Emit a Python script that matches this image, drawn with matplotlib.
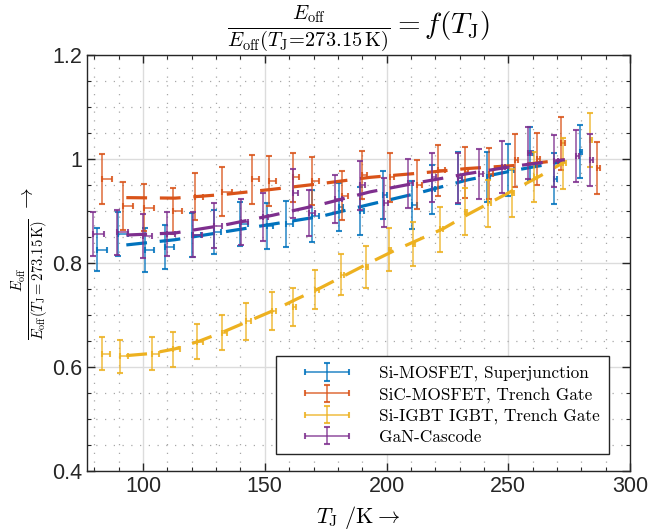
import numpy as np
import matplotlib
matplotlib.use('Agg')
import matplotlib.pyplot as plt
from matplotlib.ticker import MultipleLocator
from matplotlib.container import ErrorbarContainer
from matplotlib.legend_handler import HandlerErrorbar

plt.rcParams['mathtext.fontset'] = 'cm'
plt.rcParams['font.family'] = 'Liberation Sans'

# --- data ---
labels = ['Si-MOSFET, Superjunction', 'SiC-MOSFET, Trench Gate',
          'Si-IGBT IGBT, Trench Gate', 'GaN-Cascode']
colors = ['#0072BD', '#D95319', '#EDB120', '#7E2F8E']

# Si-MOSFET
si_x = [81.0, 89.9, 100.8, 109.0, 120.2, 129.1, 139.8, 150.8, 158.7, 169.5, 180.5,
        189.1, 198.6, 210.5, 218.5, 229.4, 241.1, 249.9, 258.8, 268.8, 279.3]
si_y = [0.826, 0.856, 0.825, 0.831, 0.854, 0.860, 0.875, 0.872, 0.875, 0.890, 0.908,
        0.901, 0.931, 0.912, 0.942, 0.963, 0.965, 0.979, 1.011, 0.962, 1.014]
si_yerr = [0.042, 0.043, 0.042, 0.042, 0.043, 0.043, 0.043, 0.044, 0.044, 0.050, 0.046,
           0.046, 0.046, 0.046, 0.047, 0.050, 0.048, 0.050, 0.051, 0.049, 0.051]
si_xerr = [4.1, 3.8, 3.8, 3.8, 3.8, 3.1, 3.4, 2.7, 2.7, 2.9, 1.8,
           1.6, 1.6, 1.8, 1.4, 1.4, 1.4, 2.3, 1.4, 1.2, 1.1]

# SiC-MOSFET
sic_x = [83.0, 91.9, 100.5, 112.2, 121.3, 132.6, 144.6, 151.8, 161.4, 169.5, 181.8,
         190.0, 201.4, 212.6, 221.3, 232.2, 242.2, 252.7, 261.8, 271.8, 286.2]
sic_y = [0.962, 0.910, 0.907, 0.900, 0.928, 0.937, 0.961, 0.958, 0.965, 0.958, 0.930,
         0.970, 0.965, 0.951, 0.979, 0.975, 0.972, 0.998, 1.001, 1.031, 0.983]
sic_yerr = [0.048, 0.046, 0.046, 0.044, 0.046, 0.047, 0.047, 0.048, 0.047, 0.047, 0.047,
            0.046, 0.047, 0.047, 0.049, 0.049, 0.049, 0.051, 0.050, 0.051, 0.050]
sic_xerr = [4.1, 4.1, 4.1, 3.7, 3.4, 3.8, 3.0, 2.7, 2.7, 2.7, 2.5,
            2.0, 1.6, 1.8, 2.5, 1.4, 1.6, 1.4, 1.1, 1.4, 1.4]

# Si-IGBT
igbt_x = [83.0, 90.6, 103.6, 112.5, 122.0, 132.3, 142.2, 152.8, 161.4, 170.6, 181.2,
          191.5, 200.9, 210.7, 221.9, 232.2, 241.7, 251.3, 260.6, 272.5, 283.5]
igbt_y = [0.626, 0.621, 0.626, 0.634, 0.649, 0.666, 0.688, 0.708, 0.716, 0.749, 0.778,
          0.793, 0.826, 0.837, 0.865, 0.899, 0.915, 0.935, 0.966, 0.992, 1.037]
igbt_yerr = [0.032, 0.032, 0.032, 0.033, 0.033, 0.034, 0.035, 0.037, 0.037, 0.038, 0.039,
             0.040, 0.042, 0.042, 0.043, 0.045, 0.045, 0.046, 0.048, 0.049, 0.052]
igbt_xerr = [3.4, 3.4, 3.0, 2.7, 2.7, 2.0, 2.0, 1.8, 1.6, 1.8, 1.4,
             1.0, 1.1, 1.0, 1.1, 1.0, 1.0, 1.0, 1.0, 1.0, 1.0]

# GaN-Cascode
gan_x = [79.6, 89.5, 100.1, 110.0, 120.7, 129.3, 140.1, 149.1, 161.4, 168.3, 178.8,
         189.1, 199.0, 208.9, 218.5, 229.4, 238.1, 247.2, 257.9, 268.8, 277.7, 283.5]
gan_y = [0.856, 0.859, 0.852, 0.856, 0.855, 0.872, 0.879, 0.888, 0.934, 0.897, 0.924,
         0.950, 0.916, 0.954, 0.965, 0.964, 0.972, 0.985, 1.011, 0.997, 1.006, 0.999]
gan_yerr = [0.043, 0.043, 0.043, 0.043, 0.043, 0.043, 0.045, 0.046, 0.047, 0.044, 0.046,
            0.047, 0.047, 0.047, 0.047, 0.048, 0.048, 0.050, 0.050, 0.050, 0.050, 0.050]
gan_xerr = [4.4, 4.3, 3.4, 3.1, 3.4, 3.0, 3.1, 2.3, 2.3, 2.3, 2.7,
            2.0, 1.6, 2.0, 1.8, 1.4, 1.6, 1.4, 1.6, 1.4, 1.4, 1.4]

# fitted curves (dashed)
fit_x = [93.15, 113.15, 133.15, 153.15, 173.15, 193.15, 213.15, 233.15, 253.15, 273.15]
si_fit = [0.835, 0.845, 0.860, 0.875, 0.890, 0.913, 0.935, 0.960, 0.979, 0.996]
sic_fit = [0.926, 0.925, 0.932, 0.942, 0.953, 0.965, 0.973, 0.982, 0.988, 0.999]
gan_fit = [0.854, 0.858, 0.873, 0.892, 0.913, 0.937, 0.955, 0.972, 0.987, 0.999]
igbt_fit_x = [93.15, 103.15, 113.15, 123.15, 133.15, 143.15, 153.15, 163.15, 173.15, 183.15,
              193.15, 203.15, 213.15, 223.15, 233.15, 243.15, 253.15, 263.15, 273.15]
igbt_fit = [0.622, 0.626, 0.635, 0.650, 0.668, 0.688, 0.708, 0.731, 0.753, 0.777,
            0.801, 0.824, 0.845, 0.866, 0.893, 0.918, 0.943, 0.968, 0.995]

series = [
    (si_x, si_y, si_yerr, si_xerr, fit_x, si_fit),
    (sic_x, sic_y, sic_yerr, sic_xerr, fit_x, sic_fit),
    (igbt_x, igbt_y, igbt_yerr, igbt_xerr, igbt_fit_x, igbt_fit),
    (gan_x, gan_y, gan_yerr, gan_xerr, fit_x, gan_fit),
]

fig = plt.figure(figsize=(6.64, 5.31), dpi=100)
ax = fig.add_axes([0.131, 0.113, 0.818, 0.783])

handles = []
for (x, y, yerr, xerr, fx, fy), c, lab in zip(series, colors, labels):
    h = ax.errorbar(x, y, yerr=yerr, xerr=[np.zeros(len(xerr)), xerr], fmt='none',
                    ecolor=c, elinewidth=1.1, capsize=2.5, capthick=1.5, alpha=0.85,
                    label=lab, zorder=3)
    ax.plot(fx, fy, color=c, lw=2.3, dashes=(6.5, 4.0), zorder=3)
    handles.append(h)

ax.set_xlim(77, 300)
ax.set_ylim(0.4, 1.2)
ax.set_xticks([100, 150, 200, 250, 300])
ax.set_yticks([0.4, 0.6, 0.8, 1.0, 1.2])
ax.set_yticklabels(['0.4', '0.6', '0.8', '1', '1.2'])
ax.xaxis.set_minor_locator(MultipleLocator(10))
ax.yaxis.set_minor_locator(MultipleLocator(0.05))

ax.grid(True, which='major', color='#dcdcdc', lw=1.0, zorder=0)
ax.grid(True, which='minor', color='#a8a8a8', lw=0.9, dashes=(1, 6), zorder=0)
ax.set_axisbelow(True)

ax.tick_params(which='both', direction='in', top=True, right=True,
               labelsize=15.5, colors='#262626')
ax.tick_params(which='major', length=6, width=1.0)
ax.tick_params(which='minor', length=3, width=0.8)
for s in ax.spines.values():
    s.set_color('#262626')
    s.set_linewidth(1.0)

ax.set_title(r'$\frac{E_{\mathrm{off}}}{E_{\mathrm{off}}(T_{\mathrm{J}}\!=\!273.15\,\mathrm{K})} = f(T_{\mathrm{J}})$',
             fontsize=21, pad=2)
ax.set_xlabel(r'$T_{\mathrm{J}}\ /\mathrm{K} \rightarrow$', fontsize=16, labelpad=5)
ax.set_ylabel(r'$\frac{E_{\mathrm{off}}}{E_{\mathrm{off}}(T_{\mathrm{J}}=273.15\,\mathrm{K})}\ \rightarrow$',
              fontsize=15)
ax.yaxis.set_label_coords(-0.067, 0.5)

leg = ax.legend(handles=handles, loc='lower right', bbox_to_anchor=(0.961, 0.04),
                prop={'family': 'cmr10', 'size': 12.4}, handlelength=4.88,
                handletextpad=0.55, labelspacing=0.32, borderpad=0.55,
                borderaxespad=0, fancybox=False, framealpha=1, edgecolor='#262626',
                handler_map={ErrorbarContainer: HandlerErrorbar(xerr_size=1.28, yerr_size=0.5)})
leg.get_frame().set_linewidth(1.0)

fig.savefig('out.png', dpi=100)
